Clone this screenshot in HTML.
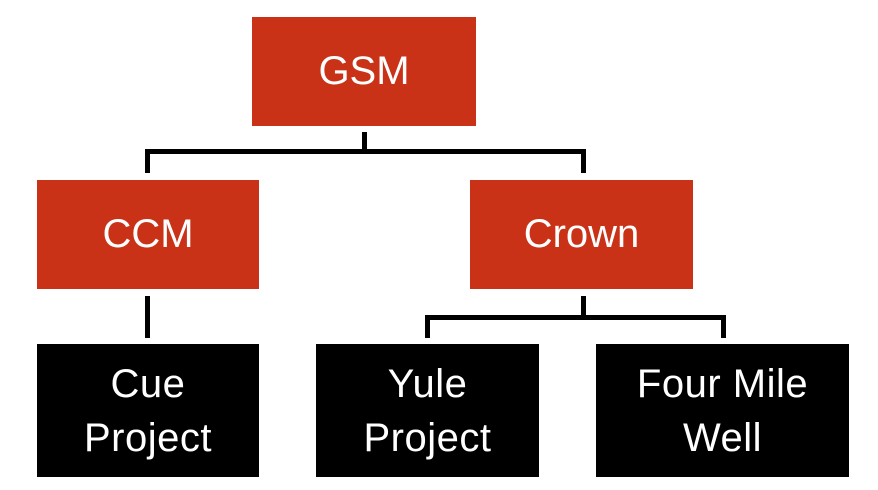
<!DOCTYPE html>
<html><head><style>
body{margin:0;width:878px;height:490px;background:#fff;position:relative;overflow:hidden;font-family:"Liberation Sans",sans-serif}
.b{position:absolute;display:flex;flex-direction:column;align-items:center;justify-content:center;color:#fff;text-align:center}
.r{background:#c93217;font-size:40px}
.k{background:#000;font-size:40px;line-height:54px;letter-spacing:0.5px}
.l{position:absolute;background:#000}
</style></head><body>
<div class="b r" style="left:252px;top:17px;width:224px;height:109px">GSM</div>
<div class="b r" style="left:37px;top:180px;width:222px;height:109px">CCM</div>
<div class="b r" style="left:470px;top:180px;width:223px;height:109px">Crown</div>
<div class="b k" style="left:37px;top:344px;width:222px;height:133px">Cue<br>Project</div>
<div class="b k" style="left:316px;top:344px;width:223px;height:133px">Yule<br>Project</div>
<div class="b k" style="left:596px;top:344px;width:253px;height:133px">Four Mile<br>Well</div>
<div class="l" style="left:362px;top:132px;width:5px;height:20px"></div>
<div class="l" style="left:145px;top:149px;width:441px;height:5px"></div>
<div class="l" style="left:145px;top:149px;width:5px;height:24px"></div>
<div class="l" style="left:581px;top:149px;width:5px;height:24px"></div>
<div class="l" style="left:145px;top:296px;width:5px;height:42px"></div>
<div class="l" style="left:581px;top:296px;width:5px;height:22px"></div>
<div class="l" style="left:425px;top:315px;width:301px;height:5px"></div>
<div class="l" style="left:425px;top:315px;width:5px;height:23px"></div>
<div class="l" style="left:721px;top:315px;width:5px;height:23px"></div>
</body></html>
